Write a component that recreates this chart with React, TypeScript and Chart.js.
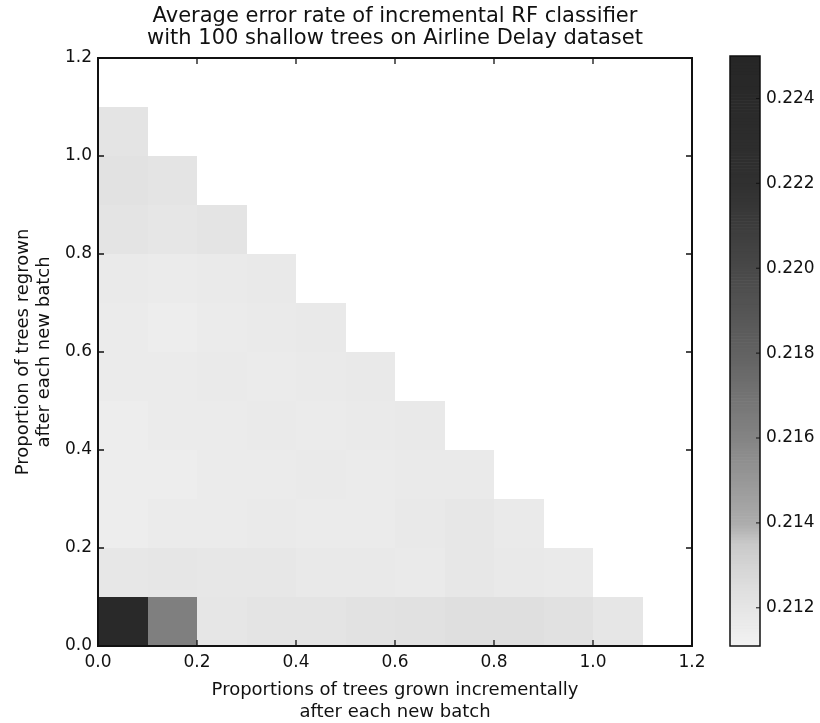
import React, { useEffect, useRef } from "react";
import { Chart, registerables } from "chart.js";

Chart.register(...registerables);

// ---- data ----
const titleLines = [
  "Average error rate of incremental RF classifier",
  "with 100 shallow trees on Airline Delay dataset",
];
const xTitleLines = ["Proportions of trees grown incrementally", "after each new batch"];
const yTitleLines = ["Proportion of trees regrown", "after each new batch"];

// left edges of the cells (proportion grown incrementally)
const grownEdges = [0.0, 0.1, 0.2, 0.3, 0.4, 0.5, 0.6, 0.7, 0.8, 0.9, 1.0];
// bottom edges of the cells (proportion regrown)
const regrownEdges = [0.0, 0.1, 0.2, 0.3, 0.4, 0.5, 0.6, 0.7, 0.8, 0.9, 1.0];
const cellSize = 0.1;

// error rate rows, one per regrown proportion (bottom to top), columns along grown proportion
const errRegrown00 = [0.2240, 0.2163, 0.2120, 0.2121, 0.2121, 0.2122, 0.2123, 0.2124, 0.2124, 0.2123, 0.2120];
const errRegrown01 = [0.2119, 0.2120, 0.2119, 0.2119, 0.2118, 0.2118, 0.2117, 0.2119, 0.2118, 0.2117];
const errRegrown02 = [0.2115, 0.2116, 0.2116, 0.2117, 0.2116, 0.2116, 0.2118, 0.2119, 0.2117];
const errRegrown03 = [0.2115, 0.2115, 0.2116, 0.2116, 0.2117, 0.2116, 0.2117, 0.2117];
const errRegrown04 = [0.2115, 0.2116, 0.2116, 0.2117, 0.2116, 0.2117, 0.2118];
const errRegrown05 = [0.2116, 0.2116, 0.2117, 0.2116, 0.2117, 0.2118];
const errRegrown06 = [0.2116, 0.2115, 0.2116, 0.2117, 0.2118];
const errRegrown07 = [0.2117, 0.2116, 0.2117, 0.2118];
const errRegrown08 = [0.2121, 0.2120, 0.2121];
const errRegrown09 = [0.2122, 0.2121];
const errRegrown10 = [0.2121];
const errorRows = [
  errRegrown00, errRegrown01, errRegrown02, errRegrown03, errRegrown04, errRegrown05,
  errRegrown06, errRegrown07, errRegrown08, errRegrown09, errRegrown10,
];

const axisTicks = [0.0, 0.2, 0.4, 0.6, 0.8, 1.0, 1.2];
const colorbarTicks = [0.212, 0.214, 0.216, 0.218, 0.22, 0.222, 0.224];
const colorMin = 0.2111;
const colorMax = 0.225;

// grey colormap stops (value -> grey level)
const cmapValues = [0.2111, 0.2125, 0.2135, 0.214, 0.216, 0.218, 0.22, 0.222, 0.225];
const cmapGrey = [243, 222, 202, 172, 132, 98, 72, 48, 38];

function greyFor(v: number): string {
  let g = cmapGrey[cmapGrey.length - 1];
  if (v <= cmapValues[0]) g = cmapGrey[0];
  else {
    for (let k = 0; k < cmapValues.length - 1; k++) {
      if (v >= cmapValues[k] && v <= cmapValues[k + 1]) {
        const t = (v - cmapValues[k]) / (cmapValues[k + 1] - cmapValues[k]);
        g = cmapGrey[k] + t * (cmapGrey[k + 1] - cmapGrey[k]);
        break;
      }
    }
  }
  const c = Math.round(g);
  return `rgb(${c},${c},${c})`;
}

const FONT = "'DejaVu Sans', 'Liberation Sans', sans-serif";

const heatmapPlugin = {
  id: "heatmapCells",
  beforeDatasetsDraw(chart: any) {
    const { ctx, chartArea } = chart;
    const xs = chart.scales.x;
    const ys = chart.scales.y;
    ctx.save();
    ctx.beginPath();
    ctx.rect(chartArea.left, chartArea.top, chartArea.right - chartArea.left, chartArea.bottom - chartArea.top);
    ctx.clip();
    const pts = chart.data.datasets[0].data;
    for (const p of pts) {
      const x0 = xs.getPixelForValue(p.x);
      const x1 = xs.getPixelForValue(p.x + cellSize);
      const y0 = ys.getPixelForValue(p.y);
      const y1 = ys.getPixelForValue(p.y + cellSize);
      ctx.fillStyle = greyFor(p.v);
      ctx.fillRect(Math.round(x0), Math.round(y1), Math.round(x1) - Math.round(x0), Math.round(y0) - Math.round(y1));
    }
    ctx.restore();
  },
  afterDraw(chart: any) {
    const { ctx, chartArea } = chart;
    const xs = chart.scales.x;
    const ys = chart.scales.y;
    const L = 6;
    ctx.save();
    ctx.strokeStyle = "#111";
    ctx.lineWidth = 2;
    ctx.strokeRect(chartArea.left, chartArea.top, chartArea.right - chartArea.left, chartArea.bottom - chartArea.top);
    ctx.lineWidth = 1.3;
    ctx.beginPath();
    for (const t of xs.ticks) {
      const px = xs.getPixelForValue(t.value);
      ctx.moveTo(px, chartArea.bottom);
      ctx.lineTo(px, chartArea.bottom - L);
      ctx.moveTo(px, chartArea.top);
      ctx.lineTo(px, chartArea.top + L);
    }
    for (const t of ys.ticks) {
      const py = ys.getPixelForValue(t.value);
      ctx.moveTo(chartArea.left, py);
      ctx.lineTo(chartArea.left + L, py);
      ctx.moveTo(chartArea.right, py);
      ctx.lineTo(chartArea.right - L, py);
    }
    ctx.stroke();
    ctx.restore();
  },
};

const colorbarPlugin = {
  id: "colorbarFill",
  beforeDatasetsDraw(chart: any) {
    const { ctx, chartArea } = chart;
    const ys = chart.scales.y;
    const steps = 200;
    ctx.save();
    for (let k = 0; k < steps; k++) {
      const v0 = colorMin + ((colorMax - colorMin) * k) / steps;
      const v1 = colorMin + ((colorMax - colorMin) * (k + 1)) / steps;
      const p0 = ys.getPixelForValue(v0);
      const p1 = ys.getPixelForValue(v1);
      ctx.fillStyle = greyFor((v0 + v1) / 2);
      ctx.fillRect(chartArea.left, p1, chartArea.right - chartArea.left, p0 - p1 + 0.6);
    }
    ctx.restore();
  },
  afterDraw(chart: any) {
    const { ctx, chartArea } = chart;
    const ys = chart.scales.y;
    ctx.save();
    ctx.strokeStyle = "#111";
    ctx.lineWidth = 1.5;
    ctx.strokeRect(chartArea.left, chartArea.top, chartArea.right - chartArea.left, chartArea.bottom - chartArea.top);
    ctx.lineWidth = 1;
    ctx.beginPath();
    for (const t of ys.ticks) {
      const py = ys.getPixelForValue(t.value);
      ctx.moveTo(chartArea.right, py);
      ctx.lineTo(chartArea.right - 4, py);
    }
    ctx.stroke();
    ctx.restore();
  },
};

export default function App() {
  const mainRef = useRef<HTMLCanvasElement>(null);
  const cbRef = useRef<HTMLCanvasElement>(null);

  useEffect(() => {
    Chart.defaults.font.family = FONT;
    Chart.defaults.color = "#111";

    const cells: { x: number; y: number; v: number }[] = [];
    errorRows.forEach((row, j) => {
      row.forEach((v, i) => {
        cells.push({ x: grownEdges[i], y: regrownEdges[j], v });
      });
    });

    const main = new Chart(mainRef.current as HTMLCanvasElement, {
      type: "scatter",
      data: {
        datasets: [
          {
            label: "error rate",
            data: cells as any,
            pointRadius: 0,
            pointHoverRadius: 0,
            showLine: false,
          },
        ],
      },
      options: {
        responsive: false,
        animation: false,
        events: [],
        layout: { padding: { left: 0, right: 128, top: 0, bottom: 0 } },
        plugins: {
          legend: { display: false },
          tooltip: { enabled: false },
          title: {
            display: true,
            text: titleLines,
            fullSize: false,
            color: "#111",
            font: { size: 21, weight: "normal", lineHeight: 22 / 21 },
            padding: { top: 6, bottom: 8 },
          },
        },
        scales: {
          x: {
            type: "linear",
            min: 0,
            max: 1.2,
            afterBuildTicks: (s: any) => {
              s.ticks = axisTicks.map((v) => ({ value: v }));
            },
            afterFit: (s: any) => {
              s.height = 77;
            },
            grid: { display: false, drawTicks: false },
            border: { display: false },
            ticks: {
              padding: 6,
              maxRotation: 0,
              font: { size: 17 },
              color: "#111",
              callback: (v: any) => Number(v).toFixed(1),
            },
            title: {
              display: true,
              text: xTitleLines,
              color: "#111",
              font: { size: 18, lineHeight: 22 / 18 },
              padding: { top: 0, bottom: 0 },
            },
          },
          y: {
            type: "linear",
            min: 0,
            max: 1.2,
            afterBuildTicks: (s: any) => {
              s.ticks = axisTicks.map((v) => ({ value: v }));
            },
            afterFit: (s: any) => {
              s.width = 98;
            },
            grid: { display: false, drawTicks: false },
            border: { display: false },
            ticks: {
              padding: 6,
              font: { size: 17 },
              color: "#111",
              callback: (v: any) => Number(v).toFixed(1),
            },
            title: {
              display: true,
              text: yTitleLines,
              color: "#111",
              font: { size: 18, lineHeight: 21 / 18 },
              padding: { top: 13, bottom: 0 },
            },
          },
        },
      },
      plugins: [heatmapPlugin],
    });

    const cb = new Chart(cbRef.current as HTMLCanvasElement, {
      type: "scatter",
      data: { datasets: [{ label: "cb", data: [], pointRadius: 0 }] },
      options: {
        responsive: false,
        animation: false,
        events: [],
        layout: { padding: { left: 30, right: 0, top: 56, bottom: 77 } },
        plugins: { legend: { display: false }, tooltip: { enabled: false } },
        scales: {
          x: { type: "linear", display: false, min: 0, max: 1 },
          y: {
            type: "linear",
            position: "right",
            min: colorMin,
            max: colorMax,
            afterBuildTicks: (s: any) => {
              s.ticks = colorbarTicks.map((v) => ({ value: v }));
            },
            afterFit: (s: any) => {
              s.width = 60;
            },
            grid: { display: false, drawTicks: false },
            border: { display: false },
            ticks: {
              padding: 6,
              font: { size: 17 },
              color: "#111",
              callback: (v: any) => Number(v).toFixed(3),
            },
          },
        },
      },
      plugins: [colorbarPlugin],
    });

    return () => {
      main.destroy();
      cb.destroy();
    };
  }, []);

  return (
    <div style={{ position: "fixed", left: 0, top: 0, width: 820, height: 723, background: "#fff" }}>
      <canvas ref={mainRef} width={820} height={723} style={{ position: "absolute", left: 0, top: 0 }} />
      <canvas ref={cbRef} width={120} height={723} style={{ position: "absolute", left: 700, top: 0 }} />
    </div>
  );
}
